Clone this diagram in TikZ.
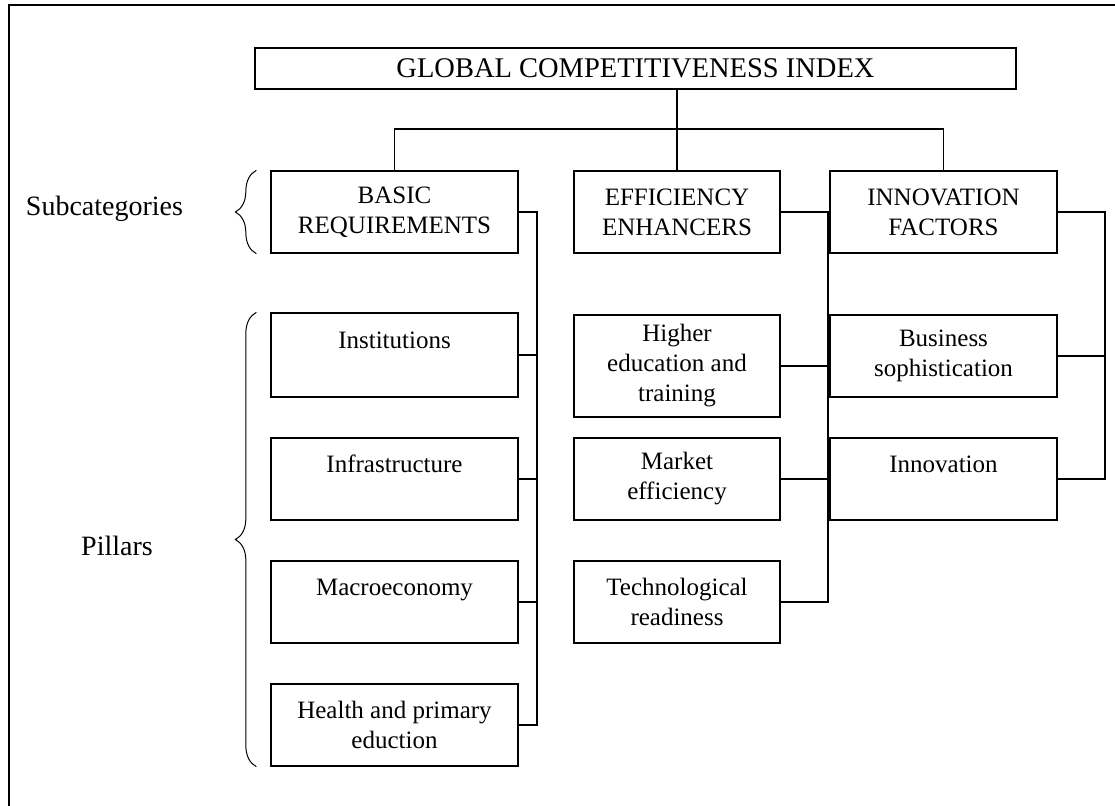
\documentclass[tikz,border=0pt]{standalone}
\usepackage{fontspec}
\setmainfont{Liberation Serif}
\usetikzlibrary{calc,decorations.pathreplacing}
\tikzstyle{box}=[rectangle, draw=black, line width=1.3, inner sep=0pt, align=center, minimum height=82]
\tikzstyle{colA}=[box, minimum width=247]
\tikzstyle{colB}=[box, minimum width=206]
\tikzstyle{colC}=[box, minimum width=227]
\tikzstyle{side}=[font=\fontsize{28}{33}\selectfont]
\tikzstyle{l1}=[line width=1.6]
\tikzstyle{brc}=[line width=1, decorate, decoration={brace, amplitude=21}]

\begin{document}
\begin{tikzpicture}[x=1pt, y=-1pt, font=\fontsize{25}{30}\selectfont]
    \useasboundingbox (0,0) rectangle (1115,805);
    \draw[line width=1.5] (9,830) -- (9,5) -- (1130,5);

    \node[box, minimum width=761, minimum height=41, font=\fontsize{28.5}{33}\selectfont] at (635.5,68.5) (gci) {GLOBAL COMPETITIVENESS INDEX};

    % subcategories
    \node[colA] at (394.5,212) (br) {BASIC\\REQUIREMENTS};
    \node[colB] at (677,212) (ee) {EFFICIENCY\\ENHANCERS};
    \node[colC] at (943.5,212) (if) {INNOVATION\\FACTORS};

    % pillars
    \node[colA, minimum height=84] at (394.5,355) (inst) {Institutions\\\mbox{}};
    \node[colA] at (394.5,479) (infra) {Infrastructure\\\mbox{}};
    \node[colA] at (394.5,602) (macro) {Macroeconomy\\\mbox{}};
    \node[colA] at (394.5,725) (health) {Health and primary\\eduction};
    \node[colB, minimum height=102] at (677,366) (higher) {Higher\\education and\\training};
    \node[colB] at (677,479) (market) {Market\\efficiency};
    \node[colB] at (677,602) (tech) {Technological\\readiness};
    \node[colC] at (943.5,356) (bus) {Business\\sophistication};
    \node[colC] at (943.5,479) (innov) {Innovation\\\mbox{}};

    \node[side] at (104.5,209) (sub) {Subcategories};
    \node[side] at (117,546) (pil) {Pillars};

    \coordinate (split) at (677,129);
    \coordinate (brbus) at (537,212);
    \coordinate (eebus) at (828,212);
    \coordinate (ifbus) at (1105,212);

    \draw[l1] (ee.north) -- (ee.north |- gci.south);
    \draw[l1] (br.north) |- (split) -| (if.north);

    \draw[l1] (br.east) -- (brbus) |- (health.east);
    \draw[l1] (inst.east) -- (inst.east -| brbus);
    \draw[l1] (infra.east) -- (infra.east -| brbus);
    \draw[l1] (macro.east) -- (macro.east -| brbus);

    \draw[l1] (ee.east) -- (eebus) |- (tech.east);
    \draw[l1] (higher.east) -- (higher.east -| eebus);
    \draw[l1] (market.east) -- (market.east -| eebus);

    \draw[l1] (if.east) -- (ifbus) |- (innov.east);
    \draw[l1] (bus.east) -- (bus.east -| ifbus);

    \draw[brc] ($(br.south west)+(-14,0)$) -- ($(br.north west)+(-14,0)$);
    \draw[brc] ($(health.south west)+(-14,0)$) -- ($(inst.north west)+(-14,0)$);
\end{tikzpicture}
\end{document}
